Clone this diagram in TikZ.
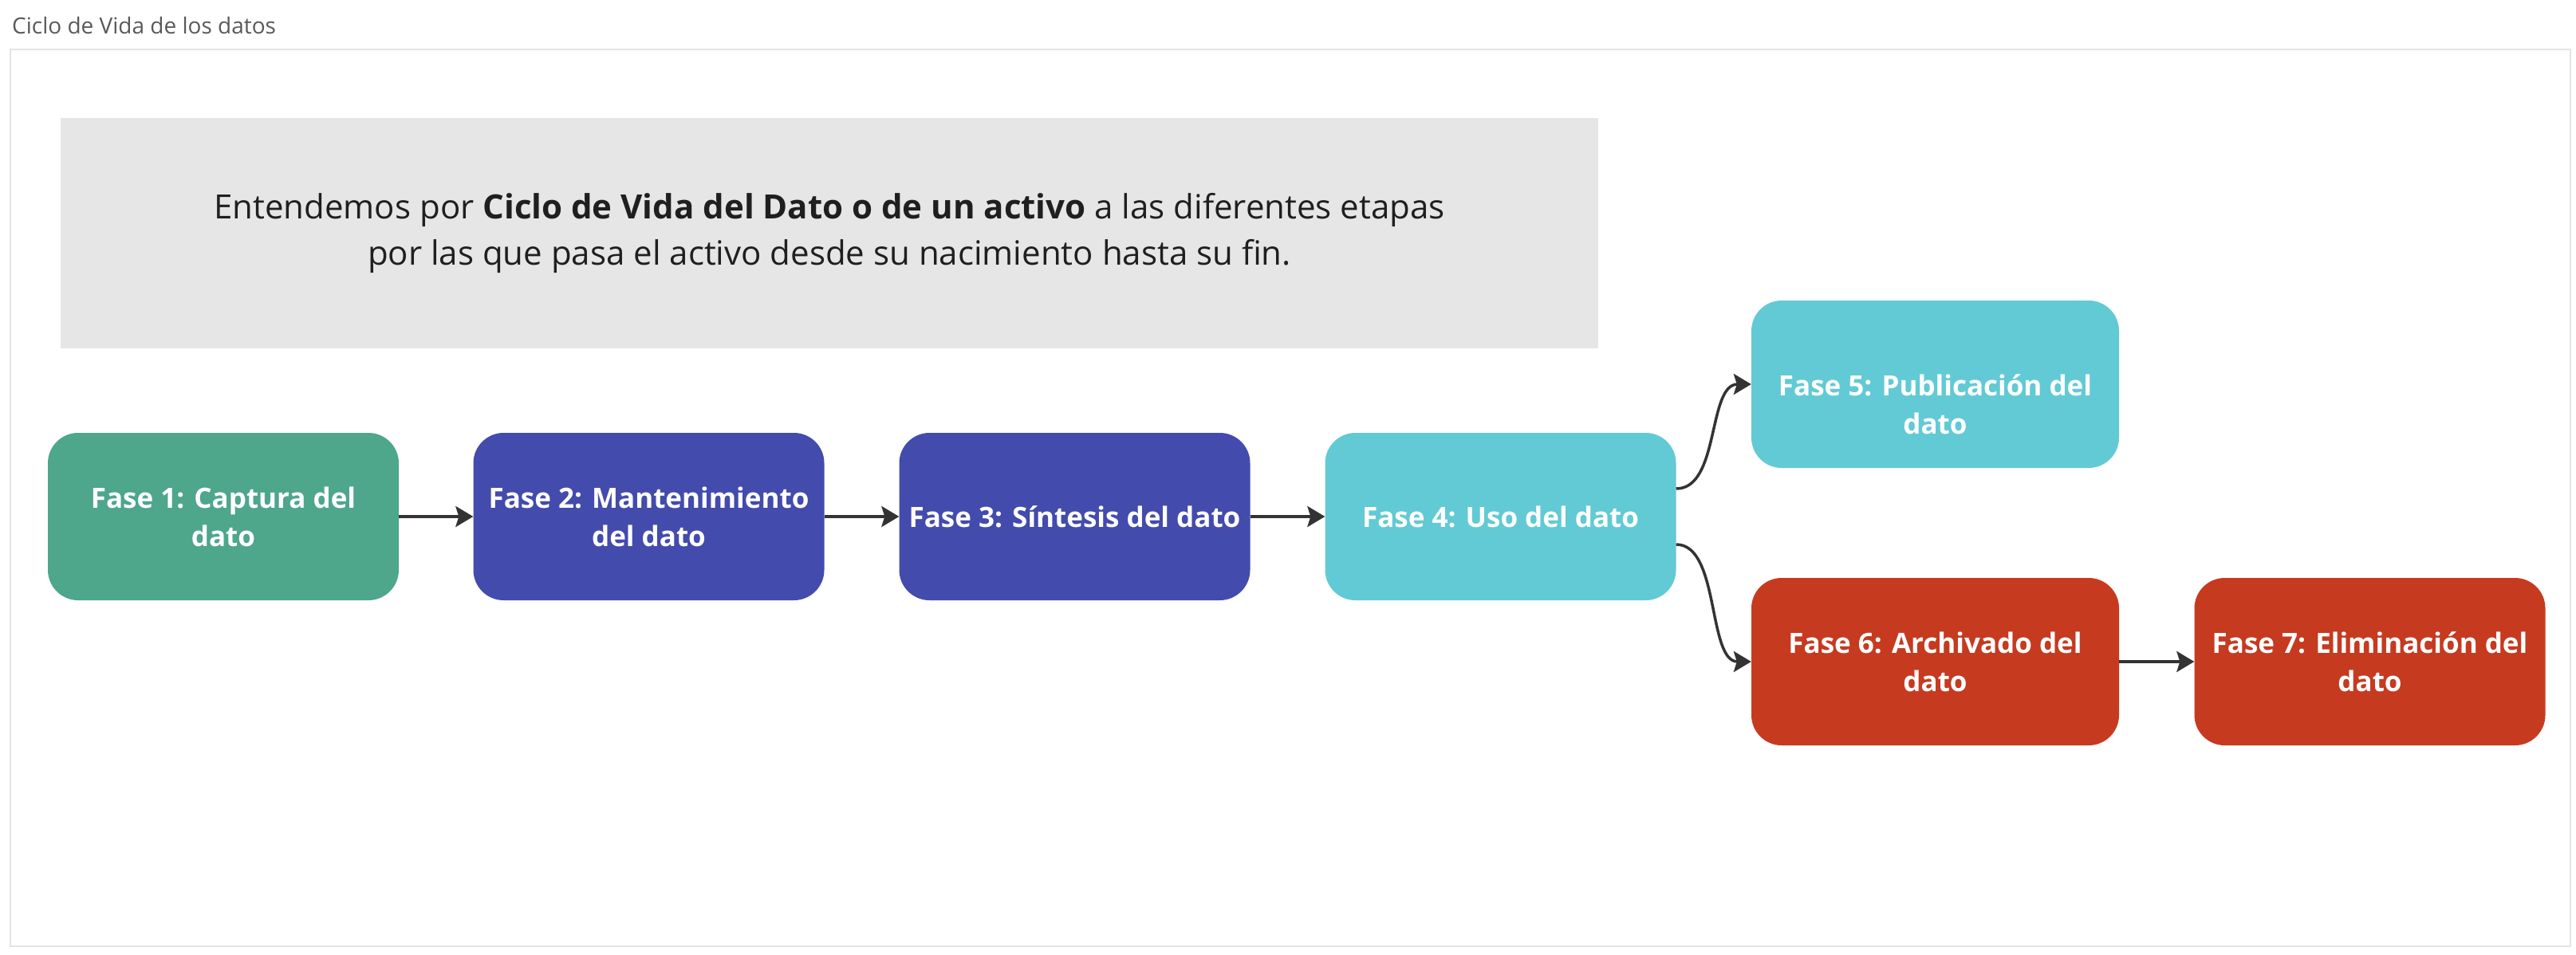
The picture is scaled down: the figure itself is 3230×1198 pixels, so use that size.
\documentclass[tikz,border=0pt]{standalone}
\usepackage{fontspec}
\setmainfont{Open Sans}
\usepackage{tikz}
\usetikzlibrary{arrows.meta, positioning}

\definecolor{faseverde}{HTML}{4EA68B}
\definecolor{faseazul}{HTML}{434BAC}
\definecolor{fasecian}{HTML}{62CAD4}
\definecolor{faserojo}{HTML}{C63A20}
\definecolor{fondogris}{HTML}{E6E6E6}
\definecolor{marcogris}{HTML}{E4E4E4}
\definecolor{flechagris}{HTML}{333333}

\begin{document}
\begin{tikzpicture}[
                x=1pt, y=-1pt,
                fasetexto/.style={align=center, text=white, inner sep=0pt, font=\fontsize{35}{48}\selectfont\bfseries},
                fase/.style={fasetexto, rectangle, rounded corners=38pt, minimum width=440pt, minimum height=210pt},
                flecha/.style={-{Stealth[length=22pt, width=26pt, inset=4pt]}, line width=3.5pt, draw=flechagris}
            ]
                \useasboundingbox (0,0) rectangle (3230,1198);
                \node[anchor=base west, text=black!65, font=\fontsize{28}{32}\selectfont, inner sep=0pt] (titulo) at (15,42.5) {Ciclo de Vida de los datos};
                \draw[marcogris, line width=2pt] (13,62) rectangle (3223,1187);
                
                \node[rectangle, fill=fondogris, minimum width=1928pt, minimum height=289pt, align=center, text=black!88, font=\fontsize{42}{58}\selectfont] (intro) at (1040,292.5) {Entendemos por \textbf{Ciclo de Vida del Dato o de un activo} a las diferentes etapas\\por las que pasa el activo desde su nacimiento hasta su fin.};
                
                \node[fase, fill=faseverde] (f1) at (280,648) {Fase 1: Captura del\\dato};
                \node[fase, fill=faseazul] (f2) at (813.5,648) {Fase 2: Mantenimiento\\del dato};
                \node[fase, fill=faseazul] (f3) at (1347.5,648) {Fase 3: Síntesis del dato};
                \node[fase, fill=fasecian] (f4) at (1881.5,648) {Fase 4: Uso del dato};
                \node[fase, fill=fasecian, minimum width=461pt] (f5) at (2426.5,482) {};
                \node[fasetexto] (f5texto) at ([yshift=-25pt]f5.center) {Fase 5: Publicación del\\dato};
                \node[fase, fill=faserojo, minimum width=461pt] (f6) at (2426.5,830) {Fase 6: Archivado del\\dato};
                \node[fase, fill=faserojo] (f7) at (2971.5,830) {Fase 7: Eliminación del\\dato};
                
                \draw[flecha] (f1) -- (f2);
                \draw[flecha] (f2) -- (f3);
                \draw[flecha] (f3) -- (f4);
                \draw[flecha] ([yshift=35pt]f4.east) .. controls +(55,0) and +(-55,0) .. (f5.west);
                \draw[flecha] ([yshift=-35pt]f4.east) .. controls +(55,0) and +(-55,0) .. (f6.west);
                \draw[flecha] (f6) -- (f7);
            \end{tikzpicture}
\end{document}
